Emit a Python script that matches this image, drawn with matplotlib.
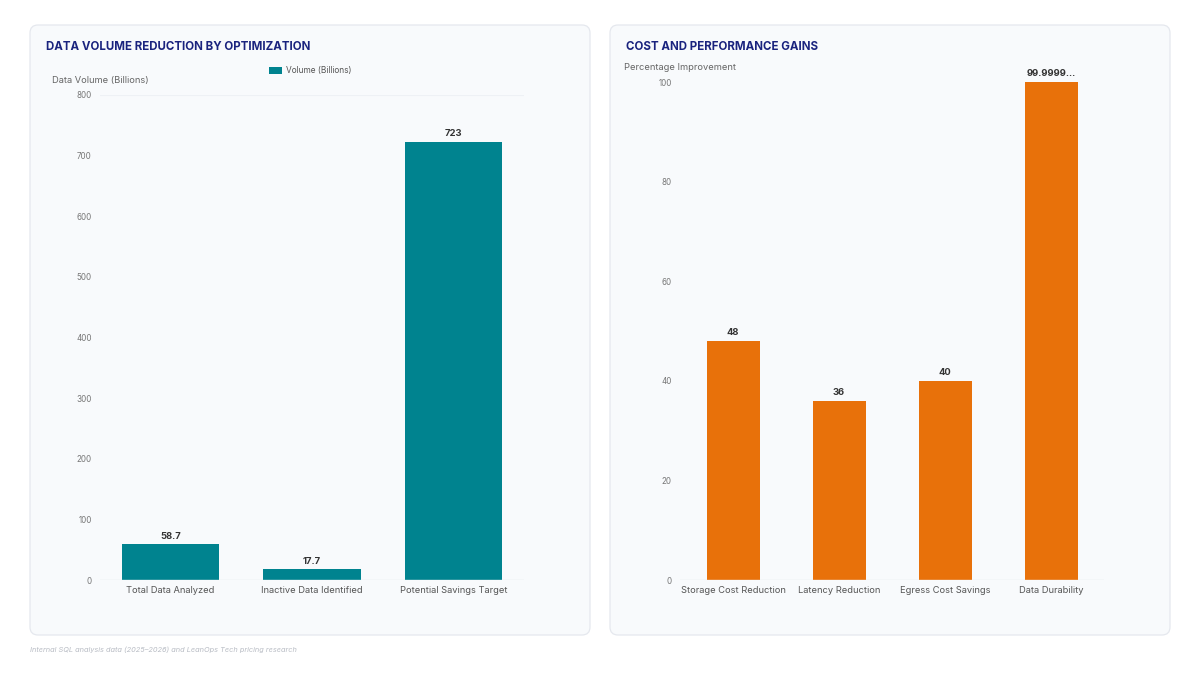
import matplotlib
matplotlib.use("Agg")
import matplotlib.pyplot as plt
from matplotlib.patches import FancyBboxPatch

plt.rcParams['font.family'] = ['Inter', 'DejaVu Sans']

# Data
vol_categories = ["Total Data Analyzed", "Inactive Data Identified", "Potential Savings Target"]
vol_values = [58.7, 17.7, 723]
vol_labels = ["58.7", "17.7", "723"]
vol_ticks = [0, 100, 200, 300, 400, 500, 600, 700, 800]

gain_categories = ["Storage Cost Reduction", "Latency Reduction", "Egress Cost Savings", "Data Durability"]
gain_values = [48, 36, 40, 99.999999999]
gain_labels = ["48", "36", "40", "99.9999..."]
gain_ticks = [0, 20, 40, 60, 80, 100]

TEAL = "#00838f"
ORANGE = "#e8710a"
NAVY = "#1a237e"
GRAY = "#666666"
TICK = "#777777"

W, H = 1200, 675
fig = plt.figure(figsize=(12, 6.75), dpi=100)
fig.patch.set_facecolor("white")

# background axes in pixel coordinates
bg = fig.add_axes([0, 0, 1, 1], zorder=-10)
bg.set_xlim(0, W)
bg.set_ylim(H, 0)
bg.axis("off")
for x0, x1 in [(30, 590), (610, 1170)]:
    bg.add_patch(FancyBboxPatch((x0, 25), x1 - x0, 610,
                                boxstyle="round,pad=0,rounding_size=8",
                                fc="#f8fafc", ec="#e5e8ee", lw=0.9))

def fx(px):
    return px / W

def fy(py):
    return 1 - py / H

# Left chart
ax1 = fig.add_axes([fx(100), fy(580), fx(524) - fx(100), fy(95) - fy(580)])
ax1.set_facecolor("none")
x1 = range(len(vol_categories))
bars = ax1.bar(x1, vol_values, width=0.69, color=TEAL, label="Volume (Billions)", zorder=3)
ax1.set_xlim(-0.5, len(vol_categories) - 0.5)
ax1.set_ylim(0, 800)
ax1.set_yticks(vol_ticks)
ax1.set_xticks(list(x1))
ax1.set_xticklabels(vol_categories, fontsize=6.7, color="#555555")
for b, lab in zip(bars, vol_labels):
    ax1.text(b.get_x() + b.get_width() / 2, b.get_height() + 6, lab,
             ha="center", va="bottom", fontsize=6.8, fontweight="bold", color="#333333")
ax1.axhline(800, color="#eef1f5", lw=0.8, zorder=1)
ax1.axhline(0, color="#e3e6ea", lw=1.0, zorder=4)

# Right chart
ax2 = fig.add_axes([fx(680), fy(580), fx(1104) - fx(680), fy(82) - fy(580)])
ax2.set_facecolor("none")
x2 = range(len(gain_categories))
bars2 = ax2.bar(x2, gain_values, width=0.5, color=ORANGE, zorder=3)
ax2.set_xlim(-0.5, len(gain_categories) - 0.5)
ax2.set_ylim(0, 100)
ax2.set_yticks(gain_ticks)
ax2.set_xticks(list(x2))
ax2.set_xticklabels(gain_categories, fontsize=6.7, color="#555555")
for b, lab in zip(bars2, gain_labels):
    ax2.text(b.get_x() + b.get_width() / 2, b.get_height() + 0.8, lab,
             ha="center", va="bottom", fontsize=6.8, fontweight="bold", color="#333333")
ax2.axhline(0, color="#e3e6ea", lw=1.0, zorder=4)

for ax in (ax1, ax2):
    for s in ax.spines.values():
        s.set_visible(False)
    ax.tick_params(axis="y", length=0, labelsize=5.8, labelcolor=TICK, pad=6)
    ax.tick_params(axis="x", length=0, pad=4)

# legend (left chart)
fig.legend(handles=[bars], labels=["Volume (Billions)"], loc="center",
           bbox_to_anchor=(fx(310), fy(71)), frameon=False, fontsize=6,
           handlelength=1.6, handleheight=0.9, handletextpad=0.4, labelcolor="#555555")

# titles and axis labels
fig.text(fx(46), fy(47), "DATA VOLUME REDUCTION BY OPTIMIZATION", fontsize=8.3, fontweight="bold",
         color=NAVY, ha="left", va="center")
fig.text(fx(626), fy(47), "COST AND PERFORMANCE GAINS", fontsize=8.3, fontweight="bold",
         color=NAVY, ha="left", va="center")
fig.text(fx(52), fy(80), "Data Volume (Billions)", fontsize=6.7, color=GRAY, ha="left", va="center")
fig.text(fx(624), fy(68), "Percentage Improvement", fontsize=6.7, color=GRAY, ha="left", va="center")

fig.text(fx(30), fy(650), "Internal SQL analysis data (2025\u20132026) and LeanOps Tech pricing research",
         fontsize=5.3, style="italic", color="#b8bcc4", ha="left", va="center")

fig.savefig("out.png", dpi=100, facecolor="white")
